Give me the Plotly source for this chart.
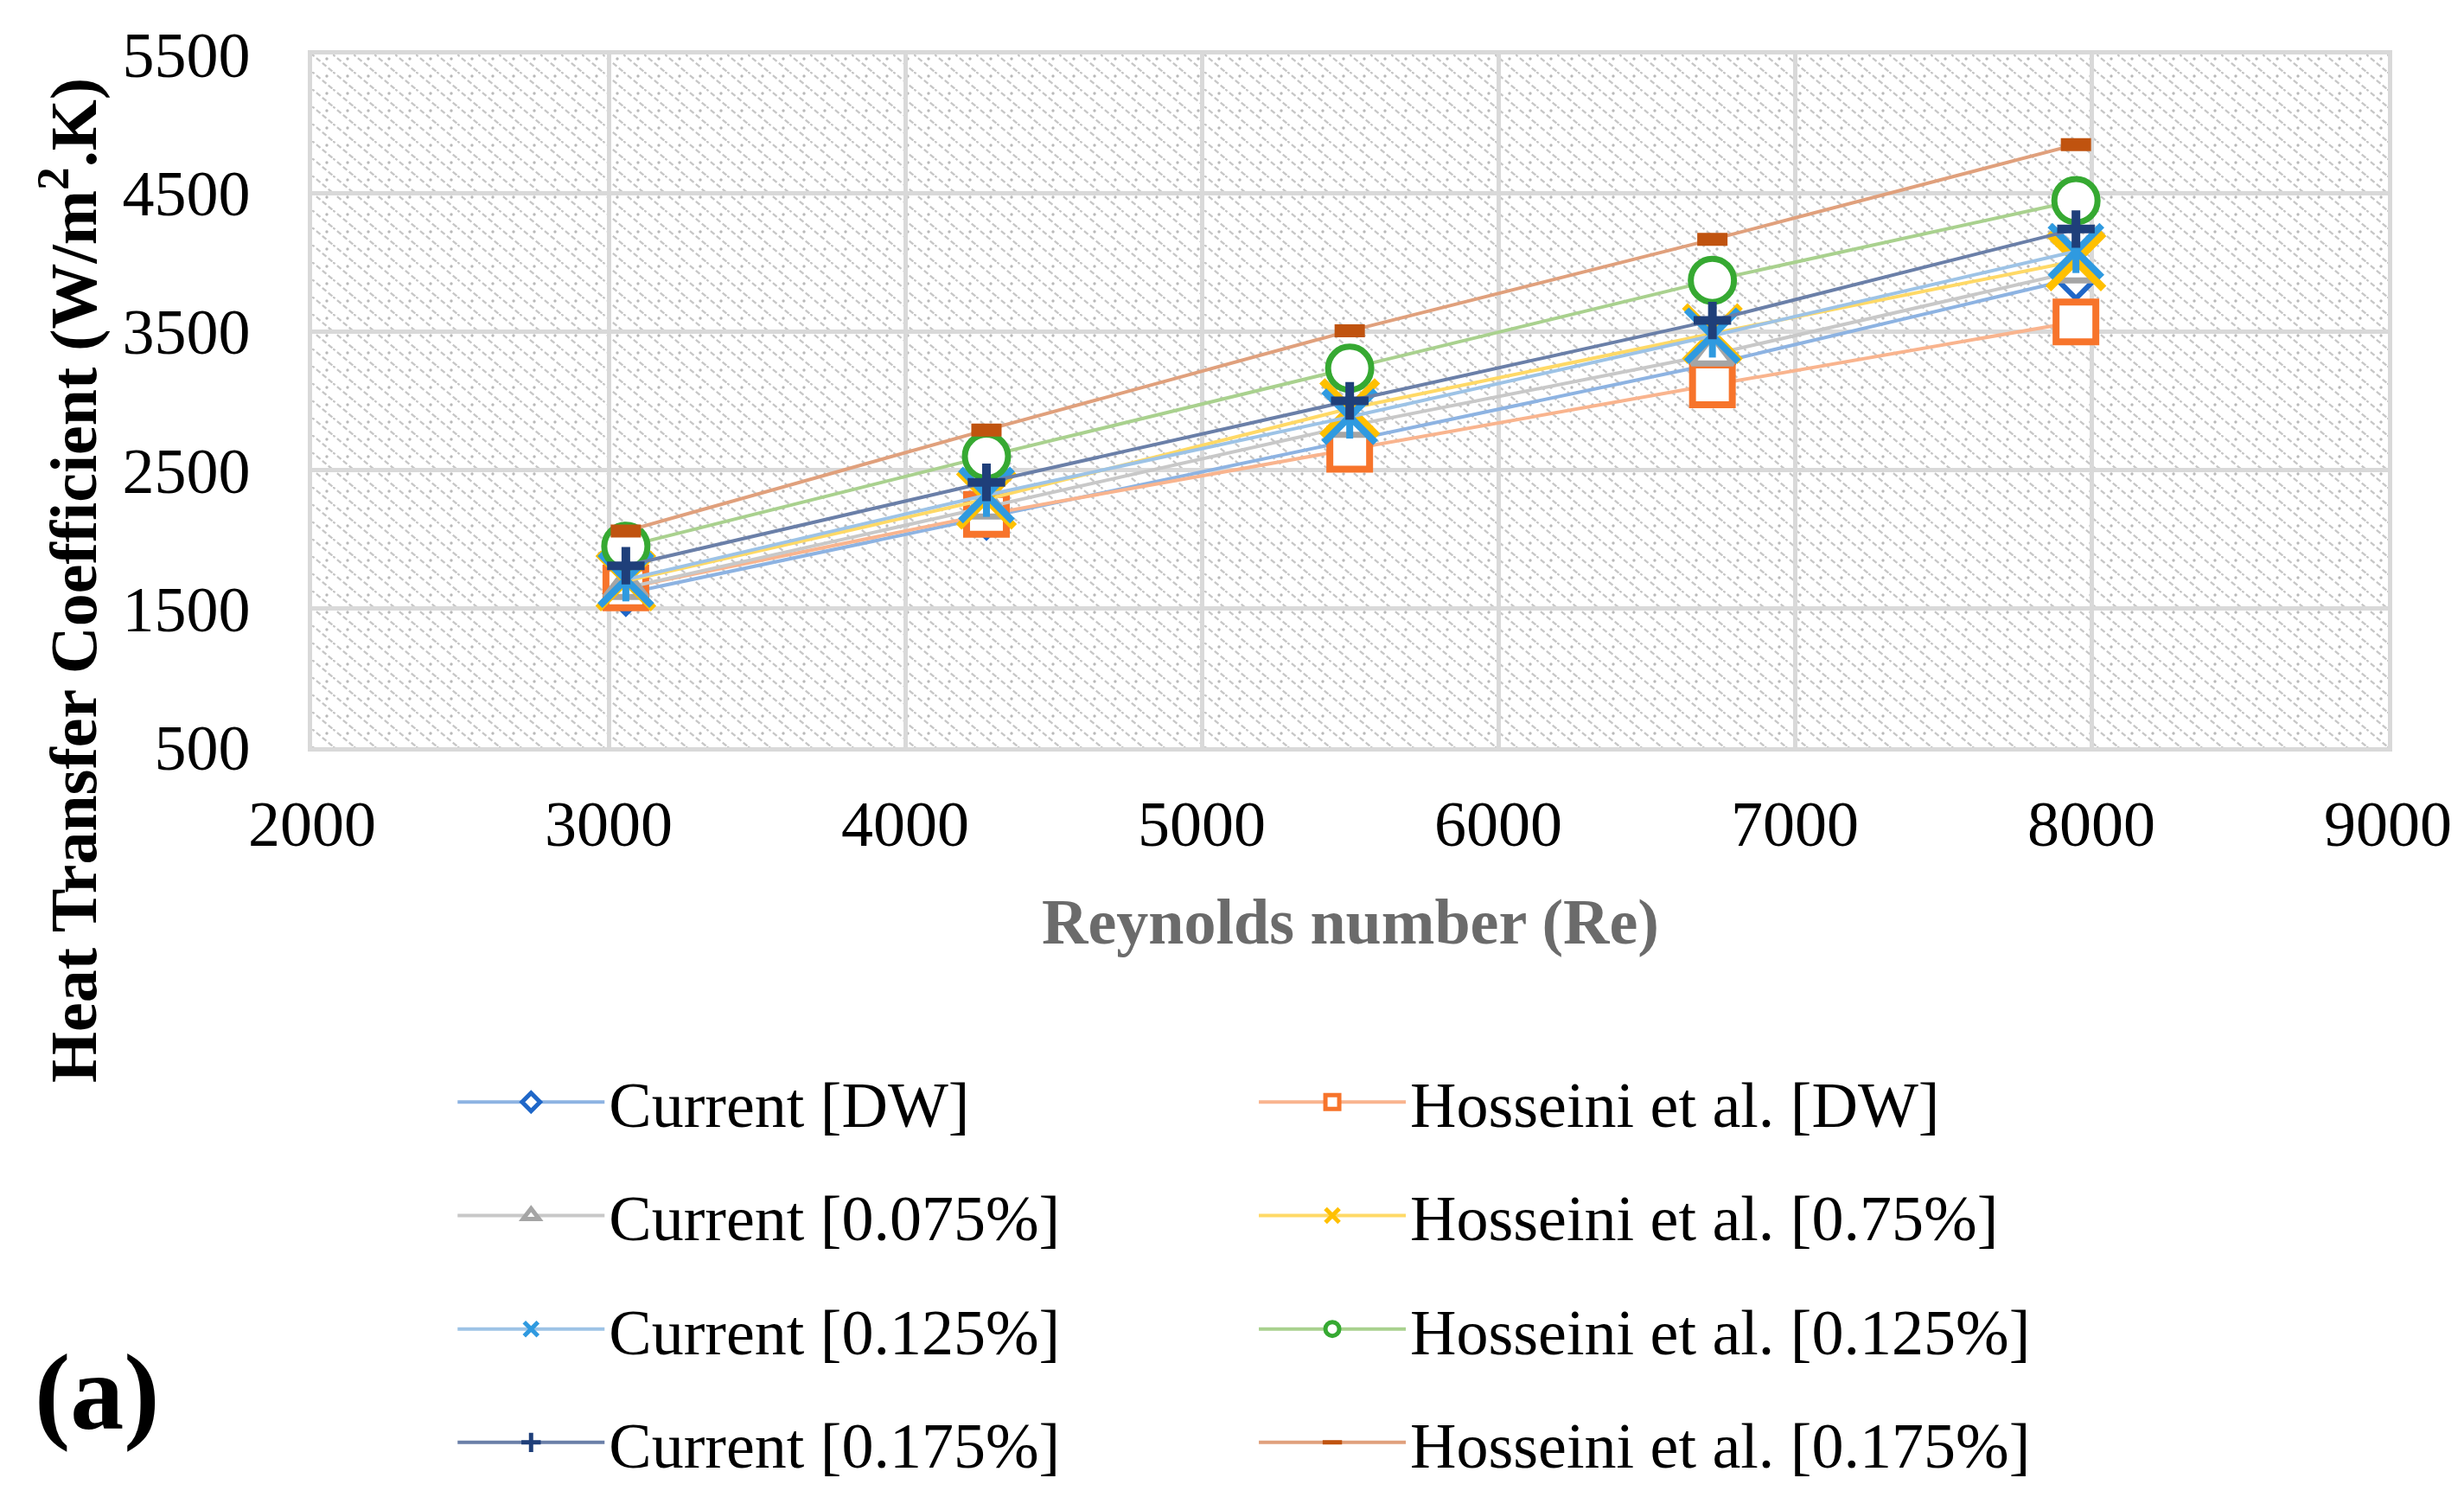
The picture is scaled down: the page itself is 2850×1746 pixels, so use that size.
import base64
import plotly.graph_objects as go

# ---------------- data ----------------
reynolds = [3058, 4274, 5499, 6722, 7948]

current_dw = [1610, 2160, 2710, 3265, 3885]
hosseini_dw = [1650, 2180, 2650, 3115, 3570]
current_0075 = [1650, 2230, 2820, 3335, 3935]
hosseini_075 = [1700, 2290, 2945, 3485, 4010]
current_0125 = [1710, 2320, 2885, 3470, 4080]
hosseini_0125 = [1950, 2600, 3235, 3870, 4445]
current_0175 = [1810, 2412, 3000, 3580, 4240]
hosseini_0175 = [2060, 2790, 3505, 4165, 4850]

x_ticks = [2000, 3000, 4000, 5000, 6000, 7000, 8000, 9000]
y_ticks = [500, 1500, 2500, 3500, 4500, 5500]

# ---------------- layout geometry ----------------
W, H = 2850, 1746
ML, MR, MT, MB = 353, 96, 55, 890
PW, PH = W - ML - MR, H - MT - MB

FONT = "Liberation Serif"
FS = 74

# hatched plot-area background as an inline SVG pattern
svg = f'''<svg xmlns="http://www.w3.org/2000/svg" width="{PW}" height="{PH}" viewBox="0 0 {PW} {PH}">
<defs><pattern id="p" width="24" height="20" patternUnits="userSpaceOnUse">
<line x1="-2" y1="-1.67" x2="26" y2="21.67" stroke="#c6c6c6" stroke-width="2.3" stroke-dasharray="6,3"/>
<circle cx="17" cy="5" r="1.7" fill="#b8b8b8"/>
</pattern></defs>
<rect width="{PW}" height="{PH}" fill="white"/>
<rect width="{PW}" height="{PH}" fill="url(#p)"/>
</svg>'''
svg_uri = "data:image/svg+xml;base64," + base64.b64encode(svg.encode()).decode()

fig = go.Figure()

series = [
    # name, values, line colour, marker colour, symbol, size, marker line width, fill, legend
    ("Current [DW]", current_dw, "#8db3e2", "#1f67c8", "diamond", 36, 6, "white", "legend"),
    ("Hosseini et al. [DW]", hosseini_dw, "#f9b48e", "#f7742b", "square", 46, 8, "white", "legend2"),
    ("Current [0.075%]", current_0075, "#c8c8c8", "#a5a5a5", "triangle-up", 42, 7, "white", "legend"),
    ("Hosseini et al. [0.75%]", hosseini_075, "#ffd966", "#ffc000", "x-thin", 64, 9, "#ffc000", "legend2"),
    ("Current [0.125%]", current_0125, "#9dc3e6", "#2f9ae0", "x-thin", 60, 8, "#2f9ae0", "legend"),
    ("Hosseini et al. [0.125%]", hosseini_0125, "#a9d18e", "#36a932", "circle", 50, 7, "white", "legend2"),
    ("Current [0.175%]", current_0175, "#6a7fa8", "#1f3f7a", "cross-thin", 31, 10, "#1f3f7a", "legend"),
    ("Hosseini et al. [0.175%]", hosseini_0175, "#e0a07c", "#c0530f", "line-ew", 25, 15, "#c0530f", "legend2"),
]

for name, vals, lc, mc, sym, size, mlw, fill, leg in series:
    fig.add_trace(go.Scatter(
        x=reynolds, y=vals, name=name, mode="lines+markers",
        line=dict(color=lc, width=4),
        marker=dict(symbol=sym, size=size, color=fill,
                    line=dict(color=mc, width=mlw)),
        legend=leg, legendgroup=name,
    ))
    if name == "Current [0.125%]":
        # vertical stroke completing the star-shaped marker
        fig.add_trace(go.Scatter(
            x=reynolds, y=vals, name=name, mode="markers",
            marker=dict(symbol="line-ns", size=36, color=mc,
                        line=dict(color=mc, width=8)),
            legend=leg, legendgroup=name, showlegend=False,
        ))

axis_common = dict(
    showgrid=True, gridcolor="#d9d9d9", gridwidth=4.5,
    showline=True, linecolor="#d9d9d9", linewidth=4.5, mirror=True,
    zeroline=False, ticks="",
    tickfont=dict(family=FONT, size=FS, color="black"),
)

legend_common = dict(
    yanchor="top", xanchor="left", orientation="v", bgcolor="rgba(0,0,0,0)",
    font=dict(family=FONT, size=FS, color="black"),
    itemwidth=170, tracegroupgap=32, traceorder="grouped",
)

fig.update_layout(
    width=W, height=H,
    margin=dict(l=ML, r=MR, t=MT, b=MB),
    paper_bgcolor="white", plot_bgcolor="rgba(0,0,0,0)",
    font=dict(family=FONT, size=FS, color="black"),
    xaxis=dict(range=[2000, 9000], tickvals=x_ticks, ticktext=[str(v) for v in x_ticks],
               ticklabelstandoff=20, **axis_common),
    yaxis=dict(range=[500, 5500], tickvals=y_ticks, ticktext=[str(v) for v in y_ticks],
               ticklabelstandoff=52, **axis_common),
    images=[dict(source=svg_uri, xref="paper", yref="paper", x=0, y=1,
                 sizex=1, sizey=1, sizing="stretch", layer="below",
                 xanchor="left", yanchor="top")],
    legend=dict(x=0.068, y=-0.444, **legend_common),
    legend2=dict(x=0.454, y=-0.444, **legend_common),
    showlegend=True,
)

fig.add_annotation(
    text="<b>Heat Transfer Coefficient (W/m<sup>2</sup>.K)</b>",
    xref="paper", yref="paper", x=(72 - ML) / PW, y=(H - MB - 663) / PH,
    xanchor="center", yanchor="middle", textangle=-90, showarrow=False,
    font=dict(family=FONT, size=FS + 2, color="black"),
)
fig.add_annotation(
    text="<b>Reynolds number (Re)</b>",
    xref="paper", yref="paper", x=0.5, y=(H - MB - 1058) / PH,
    xanchor="center", yanchor="middle", showarrow=False,
    font=dict(family=FONT, size=FS, color="#6b6b6b"),
)
fig.add_annotation(
    text="<b>(a)</b>",
    xref="paper", yref="paper", x=(104 - ML) / PW, y=(H - MB - 1603) / PH,
    xanchor="center", yanchor="middle", showarrow=False,
    font=dict(family=FONT, size=124, color="black"),
)

fig.write_html("out.html")
